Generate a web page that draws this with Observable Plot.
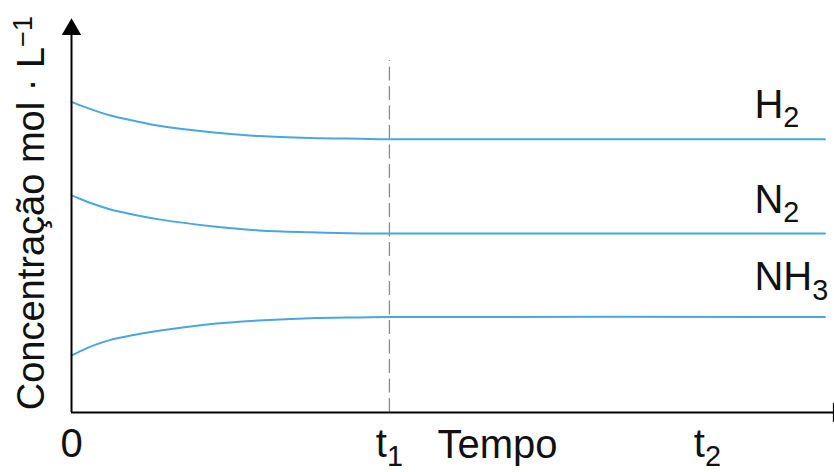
<!DOCTYPE html>
<html><head><meta charset="utf-8">
<script src="https://cdn.jsdelivr.net/npm/d3@7"></script>
<script src="https://cdn.jsdelivr.net/npm/@observablehq/plot@0.6"></script>
<style>html,body{margin:0;padding:0;background:#fff;} svg{display:block}</style>
</head><body><div id="chart"></div>
<script>
// time axis: 0 at origin, t1 = 1, t2 = 2
const time = [0, 0.03, 0.06, 0.12, 0.2, 0.28, 0.44, 0.59, 0.75, 0.91, 1.0, 2.37];
const h2  = [8.07, 7.97, 7.88, 7.72, 7.57, 7.44, 7.28, 7.18, 7.13, 7.11, 7.10, 7.10];
const n2  = [5.64, 5.54, 5.44, 5.28, 5.13, 5.01, 4.84, 4.73, 4.68, 4.65, 4.65, 4.65];
const nh3 = [1.48, 1.60, 1.71, 1.88, 2.02, 2.13, 2.30, 2.39, 2.45, 2.47, 2.48, 2.48];
const series = ["H_2", "N_2", "NH_3"];
const seriesValues = [h2, n2, nh3];
const labelY = [7.66, 5.19, 3.17];
const labelX = 2.148;
const xTicks = [0, 1, 2];
const xTickLabels = ["0", "t_1", "t_2"];
const xTitle = "Tempo";
const xTitleX = 1.34;
const yTitle = "Concentração mol · L^−1";
const t1 = 1;
const dashTop = 9.14;
const xMax = 2.4;
const yMax = 10;

const data = series.flatMap((s, si) => time.map((t, i) => ({series: s, t, c: seriesValues[si][i]})));

const font = "'Liberation Sans', Arial, Helvetica, sans-serif";
const chart = Plot.plot({
  width: 834,
  height: 472,
  marginLeft: 71,
  marginRight: 0,
  marginTop: 27,
  marginBottom: 60,
  style: {fontFamily: font, fontSize: "40px", color: "#111", background: "#fff"},
  x: {domain: [0, xMax], axis: null},
  y: {domain: [0, yMax], axis: null},
  marks: [
    Plot.ruleX([t1], {y1: 0, y2: dashTop, stroke: "#8c8c8c", strokeWidth: 1.3, strokeDasharray: "14,5.5"}),
    Plot.line(data, {x: "t", y: "c", z: "series", stroke: "#49a6e3", strokeWidth: 2, curve: "catmull-rom"}),
    Plot.ruleX([0], {y1: 0, y2: yMax, stroke: "#000", strokeWidth: 2}),
    Plot.ruleY([0], {x1: 0, x2: xMax, stroke: "#000", strokeWidth: 2}),
    Plot.dot([{x: 0, y: yMax}], {x: "x", y: "y", symbol: "triangle", r: 7.2, fill: "#000", stroke: null, dy: 2}),
    Plot.dot([{x: xMax, y: 0}], {x: "x", y: "y", symbol: "triangle", r: 7.2, fill: "#000", stroke: null, rotate: 90, dx: 4}),
    Plot.text(series, {x: labelX, y: (d, i) => labelY[i], text: d => d, textAnchor: "start", lineAnchor: "bottom", fontSize: 40, fill: "#111"}),
    Plot.text(xTickLabels, {x: (d, i) => xTicks[i], text: d => d, frameAnchor: "bottom", dy: 44, lineAnchor: "bottom", textAnchor: "middle", fontSize: 40, fill: "#111"}),
    Plot.text([xTitle], {x: xTitleX, text: d => d, frameAnchor: "bottom", dy: 45, lineAnchor: "bottom", textAnchor: "middle", fontSize: 40, fill: "#111"}),
    Plot.text([yTitle], {text: d => d, frameAnchor: "left", rotate: -90, dx: -28, dy: -7, textAnchor: "middle", lineAnchor: "bottom", fontSize: 38, fill: "#111"})
  ]
});

const NS = "http://www.w3.org/2000/svg";
chart.querySelectorAll("text").forEach(el => {
  const s = el.textContent;
  const m = s.match(/^(.*?)([_^])(.+)$/);
  if (!m) return;
  el.textContent = "";
  const a = document.createElementNS(NS, "tspan");
  a.textContent = m[1];
  el.appendChild(a);
  const b = document.createElementNS(NS, "tspan");
  b.textContent = m[3];
  b.setAttribute("font-size", "0.72em");
  b.setAttribute("dy", m[2] === "_" ? "0.34em" : "-0.42em");
  el.appendChild(b);
});
document.getElementById("chart").appendChild(chart);
</script>
</body></html>
